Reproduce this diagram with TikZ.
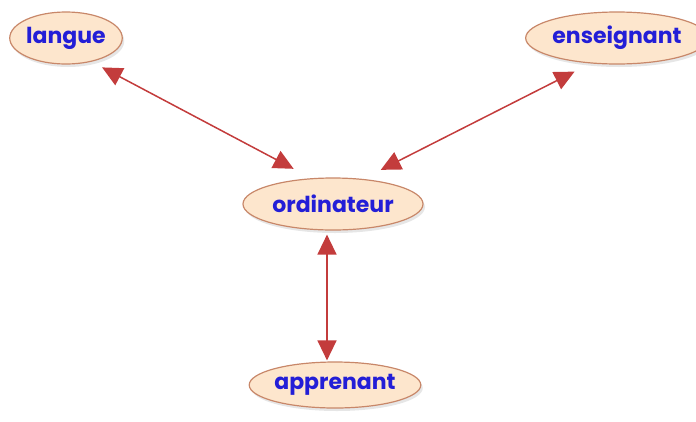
\documentclass[tikz,border=0pt]{standalone}
\usepackage{fontspec}
\setmainfont{Poppins}
\usepackage{xcolor}
\usepackage{tikz}
\usetikzlibrary{positioning}
\usetikzlibrary{shapes.geometric}
\usetikzlibrary{arrows.meta}
\usetikzlibrary{shadows}
\pgfdeclarelayer{nodelayer}
\pgfdeclarelayer{edgelayer}
\pgfsetlayers{nodelayer,edgelayer,main}
\definecolor{peach}{RGB}{253,230,205}
\definecolor{rim}{RGB}{200,135,105}
\definecolor{ink}{RGB}{35,30,215}
\definecolor{link}{RGB}{195,60,60}
\tikzset{
    concept/.style = {ellipse, draw=rim, line width=1.2pt, fill=peach, inner sep=0pt,
        text=ink, font=\bfseries\fontsize{22}{22}\selectfont,
        drop shadow={opacity=0.2, shadow xshift=2pt, shadow yshift=-3pt}},
    relation/.style = {{Triangle[length=20pt,width=19pt]}-{Triangle[length=20pt,width=19pt]},
        draw=link, line width=1.5pt}
}

\begin{document}
\begin{tikzpicture}[x=1pt, y=-1pt]
    \useasboundingbox (0, 0) rectangle (696, 421);
    \begin{pgfonlayer}{nodelayer}
        \node [style=concept, minimum width=108pt, minimum height=52pt] (0) at (66, 38) {langue};
        \node [style=concept, minimum width=154pt, minimum height=52pt] (1) at (617, 38) {enseignant};
        \node [style=concept, minimum width=180pt, minimum height=52pt] (2) at (333, 204) {ordinateur};
        \node [style=concept, minimum width=160pt, minimum height=46pt] (3) at (335, 385) {apprenant};
    \end{pgfonlayer}
    \begin{pgfonlayer}{edgelayer}
        \draw [style=relation, shorten <=12pt, shorten >=20pt] (0.-43) to (2.130);
        \draw [style=relation, shorten <=18pt, shorten >=20pt] (1.-136) to (2.40);
        \draw [style=relation, shorten <=4pt, shorten >=1pt] ([xshift=-6pt]2.south) to ([xshift=-8pt]3.north);
    \end{pgfonlayer}
\end{tikzpicture}
\end{document}
